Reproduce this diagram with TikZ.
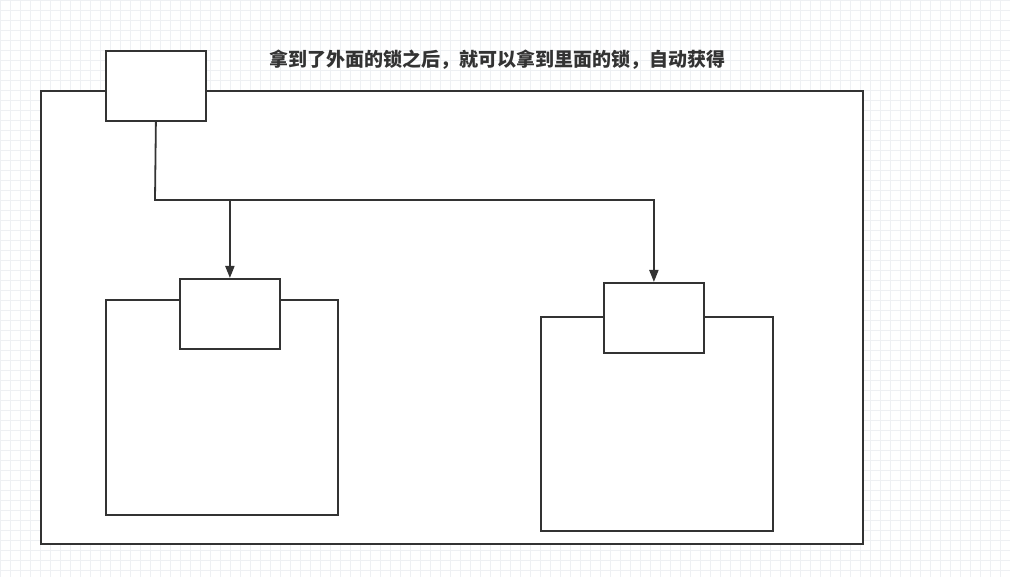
\documentclass[tikz,border=0pt]{standalone}
\usepackage{fontspec}
\newfontfamily\cjk{Noto Sans CJK SC}
\usetikzlibrary{arrows.meta,positioning}
\definecolor{lockink}{HTML}{333333}
\definecolor{gridgray}{HTML}{EEF0F3}

\begin{document}
\begin{tikzpicture}[
        x=1pt,y=-1pt,
        >=Latex,
        flow/.style={-{Triangle[length=12pt,width=9pt]},line width=1.8pt,draw=lockink},
        objbox/.style={draw=lockink,line width=1.8pt,fill=white,anchor=north west},
        lockbox/.style={draw=lockink,line width=1.8pt,fill=white,anchor=north west,
          minimum width=100pt,minimum height=70pt,inner sep=0pt}
      ]
        \useasboundingbox (0,0) rectangle (1010,577);
        \fill[white] (0,0) rectangle (1010,577);
        \draw[gridgray,line width=.5pt,step=10pt] (0,0) grid (1010,577);

        \node[objbox,minimum width=822pt,minimum height=453pt,inner sep=0pt] (outer) at (40,90) {};
        \node[lockbox] (outerlock) at (105,50) {};

        \node[objbox,minimum width=232pt,minimum height=215pt,inner sep=0pt] (leftobj) at (105,299) {};
        \node[lockbox] (leftlock) at (179,278) {};

        \node[objbox,minimum width=232pt,minimum height=214pt,inner sep=0pt] (rightobj) at (540,316) {};
        \node[lockbox] (rightlock) at (603,282) {};

        \node[font=\cjk\bfseries\fontsize{19}{22}\selectfont,text=lockink] (note) at (497,60)
          {拿到了外面的锁之后，就可以拿到里面的锁，自动获得};

        \coordinate (split) at (155,200);
        \draw[flow] (outerlock.south) -- (split) -| (leftlock.north);
        \draw[flow] (split) -| (rightlock.north);
      \end{tikzpicture}
\end{document}
